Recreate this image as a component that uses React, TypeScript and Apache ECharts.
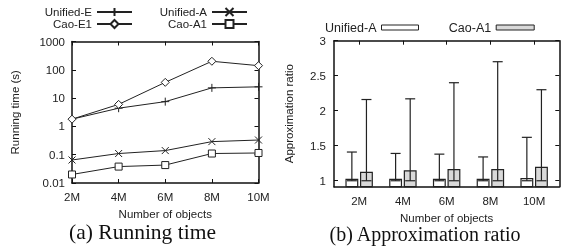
import React, { useEffect, useRef } from 'react';
import * as echarts from 'echarts';

// ---- Data: (a) Running time ----
const categories = ['2M', '4M', '6M', '8M', '10M'];
const unifiedE = [1.8, 4.4, 7.5, 23, 25];
const caoE1 = [1.8, 6.0, 36, 200, 140];
const unifiedA = [0.065, 0.11, 0.14, 0.29, 0.33];
const caoA1 = [0.02, 0.038, 0.043, 0.11, 0.115];
const logTicks = [0.01, 0.1, 1, 10, 100, 1000];

// ---- Data: (b) Approximation ratio ----
const ratioTicks = [1, 1.5, 2, 2.5, 3];
const unifiedARatio = [1.02, 1.02, 1.02, 1.02, 1.03];
const unifiedARatioMin = [1, 1, 1, 1, 1];
const unifiedARatioMax = [1.41, 1.39, 1.38, 1.34, 1.62];
const caoA1Ratio = [1.12, 1.14, 1.16, 1.16, 1.19];
const caoA1RatioMin = [1, 1, 1, 1, 1];
const caoA1RatioMax = [2.16, 2.17, 2.4, 2.7, 2.3];

const FONT = 'Liberation Sans';
const TXT = '#222';
const FS = 11.5;
const Y_MIN_B = 0.915;
const X_MIN_B = -0.575;
const X_MAX_B = 4.575;
const BAR_W = 0.267;

const plusPath = 'path://M5,0L5,10M0,5L10,5';
const crossPath = 'path://M0,0L10,10M10,0L0,10';

function makeRender(offset: number, fill: string) {
  return (params: any, api: any) => {
    const i = api.value(0);
    const v = api.value(1);
    const lo = api.value(2);
    const hi = api.value(3);
    const x = i + offset;
    const w = api.size([BAR_W, 0])[0];
    const base = api.coord([x, Y_MIN_B]);
    const top = api.coord([x, v]);
    const pLo = api.coord([x, lo]);
    const pHi = api.coord([x, hi]);
    const cap = 10;
    const ls = { stroke: '#222', lineWidth: 1.2 };
    return {
      type: 'group',
      children: [
        {
          type: 'rect',
          shape: { x: base[0] - w / 2, y: top[1], width: w, height: base[1] - top[1] },
          style: { fill, stroke: '#222', lineWidth: 1.2 },
        },
        { type: 'line', shape: { x1: pLo[0], y1: pLo[1], x2: pHi[0], y2: pHi[1] }, style: ls },
        { type: 'line', shape: { x1: pLo[0] - cap / 2, y1: pLo[1], x2: pLo[0] + cap / 2, y2: pLo[1] }, style: ls },
        { type: 'line', shape: { x1: pHi[0] - cap / 2, y1: pHi[1], x2: pHi[0] + cap / 2, y2: pHi[1] }, style: ls },
      ],
    };
  };
}

export default function App() {
  const ref = useRef<HTMLDivElement>(null);
  useEffect(() => {
    if (!ref.current) return;
    const chart = echarts.init(ref.current, undefined, { renderer: 'svg' });
    const axisLine = { show: true, onZero: false, lineStyle: { color: '#111', width: 1.5 } };
    const tick = { show: true, inside: true, length: 4, lineStyle: { color: '#111', width: 1 } };
    const label = { fontFamily: FONT, fontSize: FS, color: TXT };
    const nameStyle = { fontFamily: FONT, fontSize: FS, color: TXT };
    const legTextL = { fontFamily: FONT, fontSize: 11.5, color: TXT };
    const legTextR = { fontFamily: FONT, fontSize: 12.5, color: TXT };
    const lineItem = { color: '#fff', borderColor: '#222', borderWidth: 1 };
    const logFmt = (v: number) => {
      const t = logTicks.find((t) => Math.abs(Math.log10(t) - Math.log10(v)) < 1e-6);
      return t !== undefined ? String(t) : '';
    };
    const legL = { orient: 'horizontal', align: 'right', padding: 0, textStyle: legTextL, selectedMode: false, itemWidth: 35, itemHeight: 10 };
    const legR = { orient: 'horizontal', align: 'right', padding: 0, textStyle: legTextR, selectedMode: false, itemHeight: 5 };
    chart.setOption({
      animation: false,
      grid: [
        { left: 72, right: 307.5, top: 41.5, bottom: 67 },
        { left: 334, right: 6.7, top: 40.7, bottom: 63.3 },
      ],
      legend: [
        { ...legL, data: ['Unified-E'], right: 433, top: 6 },
        { ...legL, data: ['Cao-E1'], right: 433, top: 18 },
        { ...legL, data: ['Unified-A'], right: 318, top: 6 },
        { ...legL, data: ['Cao-A1'], right: 318, top: 18 },
        {
          ...legR,
          data: [{ name: 'Unified-A', icon: 'rect', itemStyle: { color: '#fff', borderColor: '#222', borderWidth: 1 } }],
          right: 147, top: 21, itemWidth: 37,
        },
        {
          ...legR,
          data: [{ name: 'Cao-A1', icon: 'rect', itemStyle: { color: '#d9d9d9', borderColor: '#222', borderWidth: 1 } }],
          right: 31.3, top: 21, itemWidth: 38,
        },
      ],
      xAxis: [
        {
          type: 'category', gridIndex: 0, data: categories, boundaryGap: false, position: 'bottom',
          axisLine, axisTick: tick, axisLabel: { ...label, margin: 8 },
          name: 'Number of objects', nameLocation: 'middle', nameGap: 24,
          nameTextStyle: nameStyle,
          splitLine: { show: false },
        },
        {
          type: 'category', gridIndex: 0, data: categories, boundaryGap: false, position: 'top',
          axisLine, axisTick: tick, axisLabel: { show: false }, splitLine: { show: false },
        },
        {
          type: 'value', gridIndex: 1, min: X_MIN_B, max: X_MAX_B, position: 'bottom',
          axisLine, axisTick: { show: false },
          axisLabel: {
            ...label, margin: 8, customValues: [0, 1, 2, 3, 4],
            formatter: (v: number) => categories[Math.round(v)] ?? '',
          },
          name: 'Number of objects', nameLocation: 'middle', nameGap: 21.5,
          nameTextStyle: nameStyle,
          splitLine: { show: false },
        },
        {
          type: 'value', gridIndex: 1, min: X_MIN_B, max: X_MAX_B, position: 'top',
          axisLine, axisTick: { ...tick, customValues: [0, 1, 2, 3, 4] },
          axisLabel: { show: false }, splitLine: { show: false },
        },
      ],
      yAxis: [
        {
          type: 'log', gridIndex: 0, logBase: 10, min: 0.01, max: 1000, position: 'left',
          axisLine, axisTick: tick, axisLabel: { ...label, margin: 7, formatter: logFmt },
          minorTick: { show: false }, splitLine: { show: false },
          name: 'Running time (s)', nameLocation: 'middle', nameGap: 51,
          nameTextStyle: nameStyle,
        },
        {
          type: 'log', gridIndex: 0, logBase: 10, min: 0.01, max: 1000, position: 'right',
          axisLine, axisTick: tick, axisLabel: { show: false }, splitLine: { show: false },
        },
        {
          type: 'value', gridIndex: 1, min: Y_MIN_B, max: 3, position: 'left',
          axisLine, axisTick: { ...tick, customValues: ratioTicks },
          axisLabel: { ...label, margin: 8, customValues: ratioTicks, formatter: (v: number) => String(v) },
          splitLine: { show: false },
          name: 'Approximation ratio', nameLocation: 'middle', nameGap: 39,
          nameTextStyle: nameStyle,
        },
        {
          type: 'value', gridIndex: 1, min: Y_MIN_B, max: 3, position: 'right',
          axisLine, axisTick: { ...tick, customValues: ratioTicks },
          axisLabel: { show: false }, splitLine: { show: false },
        },
      ],
      series: [
        {
          name: 'Unified-E', type: 'line', xAxisIndex: 0, yAxisIndex: 0, data: unifiedE,
          symbol: plusPath, symbolSize: 8, showAllSymbol: true,
          lineStyle: { color: '#222', width: 1 }, itemStyle: lineItem,
        },
        {
          name: 'Cao-E1', type: 'line', xAxisIndex: 0, yAxisIndex: 0, data: caoE1,
          symbol: 'diamond', symbolSize: 8, showAllSymbol: true,
          lineStyle: { color: '#222', width: 1 }, itemStyle: lineItem,
        },
        {
          name: 'Unified-A', type: 'line', xAxisIndex: 0, yAxisIndex: 0, data: unifiedA,
          symbol: crossPath, symbolSize: 7, showAllSymbol: true,
          lineStyle: { color: '#222', width: 1 }, itemStyle: lineItem,
        },
        {
          name: 'Cao-A1', type: 'line', xAxisIndex: 0, yAxisIndex: 0, data: caoA1,
          symbol: 'rect', symbolSize: 7, showAllSymbol: true,
          lineStyle: { color: '#222', width: 1 }, itemStyle: lineItem,
        },
        {
          name: 'Unified-A', type: 'custom', xAxisIndex: 2, yAxisIndex: 2,
          data: categories.map((_, i) => [i, unifiedARatio[i], unifiedARatioMin[i], unifiedARatioMax[i]]),
          encode: { x: 0, y: 1 },
          itemStyle: { color: '#fff' },
          renderItem: makeRender(-1 / 6, '#fff'),
        },
        {
          name: 'Cao-A1', type: 'custom', xAxisIndex: 2, yAxisIndex: 2,
          data: categories.map((_, i) => [i, caoA1Ratio[i], caoA1RatioMin[i], caoA1RatioMax[i]]),
          encode: { x: 0, y: 1 },
          itemStyle: { color: '#d9d9d9' },
          renderItem: makeRender(1 / 6, '#d9d9d9'),
        },
      ],
      graphic: [
        {
          type: 'text', x: 142.5, y: 232,
          style: { text: '(a) Running time', fontFamily: 'Liberation Serif', fontSize: 21.5, fill: '#111', align: 'center', verticalAlign: 'middle' },
        },
        {
          type: 'text', x: 425, y: 234,
          style: { text: '(b) Approximation ratio', fontFamily: 'Liberation Serif', fontSize: 20, fill: '#111', align: 'center', verticalAlign: 'middle' },
        },
      ],
    });
    return () => chart.dispose();
  }, []);
  return <div ref={ref} style={{ position: 'fixed', left: 0, top: 0, width: 566, height: 250 }} />;
}
